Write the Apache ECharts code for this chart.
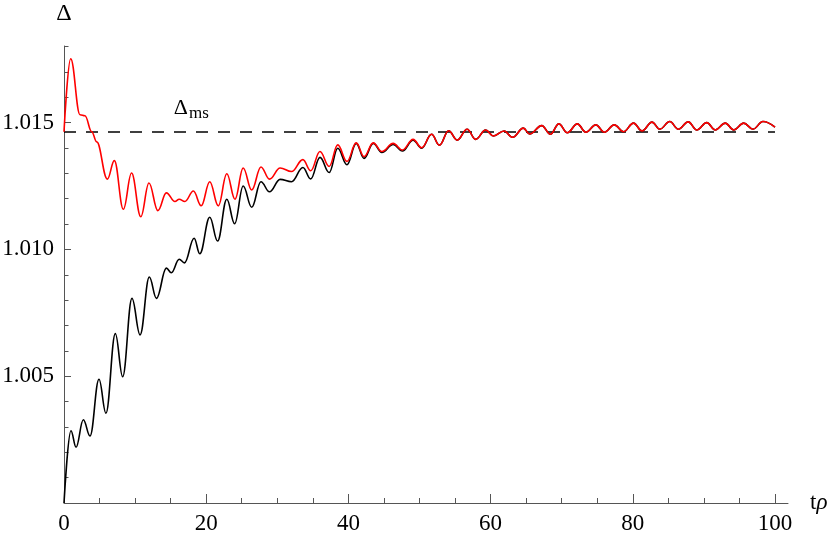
<!DOCTYPE html>
<html>
<head>
<meta charset="utf-8">
<script src="https://cdn.jsdelivr.net/npm/echarts@6/dist/echarts.min.js"></script>
<style>
  html, body { margin: 0; padding: 0; background: #fff; }
  #chart { width: 830px; height: 540px; }
</style>
</head>
<body>
<div id="chart"></div>
<script>
// black curve (t, Δ)
const tBlack = [0, 0.98, 1.69, 2.72, 3.66, 4.92, 5.9, 7.22, 8.25, 9.56, 10.7, 12.0, 13.0, 14.4, 15.1, 16.2, 16.95,
  18.3, 19.1, 20.5, 21.6, 22.9, 24.0, 25.2, 26.4, 27.7, 28.9, 30.4, 32.0, 33.6, 34.7, 36.0, 37.3, 38.5, 39.8,
  41.1, 42.2, 43.5, 44.7, 46.3, 47.6, 49.1, 50.3, 51.7, 52.8, 54.1, 55.3, 56.7, 57.9, 59.3, 60.4, 61.9, 63.1,
  64.6, 65.5, 67.2, 68.4, 69.6, 70.8, 72.2, 73.4, 74.8, 76.0, 77.4, 78.7, 80.1, 81.3, 82.7, 83.8, 85.2, 86.4,
  87.8, 89.0, 90.4, 91.6, 93.0, 94.2, 95.6, 96.9, 98.3, 100]
const dBlack = [1.0, 1.00285, 1.0022, 1.00328, 1.00264, 1.00488, 1.00354, 1.00668, 1.00498, 1.00807, 1.00663,
  1.00891, 1.00807, 1.00926, 1.00908, 1.00961, 1.00947, 1.01044, 1.00983, 1.01127, 1.01033, 1.01198, 1.01101,
  1.0125, 1.01166, 1.01267, 1.01227, 1.01276, 1.01267, 1.01323, 1.01278, 1.01363, 1.01303, 1.01399, 1.01334,
  1.01418, 1.01359, 1.01418, 1.01382, 1.01414, 1.01388, 1.01431, 1.01399, 1.01454, 1.01411, 1.01468, 1.01431,
  1.01474, 1.01434, 1.01471, 1.01447, 1.01467, 1.01442, 1.01478, 1.01455, 1.01488, 1.01454, 1.01495, 1.0146,
  1.01495, 1.01462, 1.01491, 1.01462, 1.01491, 1.01464, 1.01498, 1.01467, 1.01502, 1.01474, 1.01504, 1.01474,
  1.01503, 1.01471, 1.015, 1.01471, 1.01498, 1.01471, 1.01498, 1.01474, 1.01504, 1.01482]

// red curve (t, Δ)
const tRed = [0, 0.94, 2.25, 2.95, 3.9, 4.6, 6.1, 7.08, 8.35, 9.5, 10.8, 11.95, 13.2, 14.4, 15.6, 16.2, 17.0,
  18.2, 19.3, 20.5, 21.7, 22.9, 24.05, 25.2, 26.4, 27.7, 28.9, 30.4, 32.0, 33.6, 34.7, 36.0, 37.3, 38.5, 39.8,
  41.1, 42.2, 43.5, 44.7, 46.3, 47.6, 49.1, 50.3, 51.7, 52.8, 54.1, 55.3, 56.7, 57.9, 59.3, 60.4, 61.9, 63.1,
  64.6, 65.5, 67.2, 68.4, 69.6, 70.8, 72.2, 73.4, 74.8, 76.0, 77.4, 78.7, 80.1, 81.3, 82.7, 83.8, 85.2, 86.4,
  87.8, 89.0, 90.4, 91.6, 93.0, 94.2, 95.6, 96.9, 98.3, 100]
const dRed = [1.01464, 1.01752, 1.01531, 1.01527, 1.01464, 1.01424, 1.01277, 1.0135, 1.01158, 1.01301, 1.01129,
  1.01262, 1.01153, 1.01223, 1.01189, 1.01198, 1.01189, 1.0123, 1.01172, 1.01267, 1.01172, 1.01298, 1.01198,
  1.01321, 1.01234, 1.01325, 1.01277, 1.01321, 1.01307, 1.01354, 1.0131, 1.01386, 1.01327, 1.01412, 1.01347,
  1.0142, 1.01366, 1.0142, 1.01386, 1.01418, 1.01392, 1.01434, 1.01401, 1.01454, 1.01411, 1.01468, 1.01431,
  1.01474, 1.01434, 1.01471, 1.01447, 1.01467, 1.01442, 1.01478, 1.01455, 1.01488, 1.01454, 1.01495, 1.0146,
  1.01495, 1.01462, 1.01491, 1.01462, 1.01491, 1.01464, 1.01498, 1.01467, 1.01502, 1.01474, 1.01504, 1.01474,
  1.01503, 1.01471, 1.015, 1.01471, 1.01498, 1.01471, 1.01498, 1.01474, 1.01504, 1.01482]

// Δ_ms level (dashed)
const msT = [0, 100]
const msD = [1.01463, 1.01463]
const msLabelAt = [17.9, 1.0155]

// ticks
const xMajor = [0, 20, 40, 60, 80, 100]
const xMinor = [5, 10, 15, 25, 30, 35, 45, 50, 55, 65, 70, 75, 85, 90, 95]
const yMajor = [1.005, 1.01, 1.015]
const yMinor = [1.001, 1.002, 1.003, 1.004, 1.006, 1.007, 1.008, 1.009, 1.011, 1.012, 1.013, 1.014, 1.016, 1.017, 1.018]

const zip = (a, b) => a.map((v, i) => [v, b[i]])

const font = 'Liberation Serif'
const axisColor = '#555'

const chart = echarts.init(document.getElementById('chart'))

const option = {
  animation: false,
  backgroundColor: '#fff',
  grid: {
    left: 64,
    right: 42,
    top: 46,
    bottom: 37,
    containLabel: false,
    outerBoundsMode: 'none'
  },
  xAxis: [
    {
      type: 'value',
      min: 0,
      max: 101.83,
      position: 'bottom',
      name: '{t|t}{r|ρ}',
      nameLocation: 'end',
      nameGap: 22,
      nameTextStyle: {
        rich: {
          t: { fontFamily: font, fontSize: 23, color: '#000' },
          r: { fontFamily: font, fontSize: 23, fontStyle: 'italic', color: '#000' }
        }
      },
      axisLine: { show: true, lineStyle: { color: axisColor, width: 1 } },
      axisTick: { show: true, inside: true, length: 9, customValues: xMajor, lineStyle: { color: axisColor } },
      axisLabel: {
        customValues: xMajor,
        fontFamily: font,
        fontSize: 23,
        color: '#000',
        margin: 9
      },
      splitLine: { show: false }
    },
    {
      type: 'value',
      min: 0,
      max: 101.83,
      position: 'bottom',
      offset: 0,
      axisLine: { show: false },
      axisTick: { show: true, inside: true, length: 5, customValues: xMinor, lineStyle: { color: axisColor } },
      axisLabel: { show: false },
      splitLine: { show: false }
    }
  ],
  yAxis: [
    {
      type: 'value',
      min: 1.0,
      max: 1.01802,
      position: 'left',
      name: 'Δ',
      nameLocation: 'end',
      nameGap: 20,
      nameTextStyle: { fontFamily: font, fontSize: 24, color: '#000', align: 'center' },
      axisLine: { show: true, lineStyle: { color: axisColor, width: 1 } },
      axisTick: { show: true, inside: true, length: 7, customValues: yMajor, lineStyle: { color: axisColor } },
      axisLabel: {
        customValues: yMajor,
        formatter: (v) => v.toFixed(3),
        fontFamily: font,
        fontSize: 23,
        color: '#000',
        margin: 10
      },
      splitLine: { show: false }
    },
    {
      type: 'value',
      min: 1.0,
      max: 1.01802,
      position: 'left',
      offset: 0,
      axisLine: { show: false },
      axisTick: { show: true, inside: true, length: 4.5, customValues: yMinor, lineStyle: { color: axisColor } },
      axisLabel: { show: false },
      splitLine: { show: false }
    }
  ],
  series: [
    {
      name: 'ms',
      type: 'line',
      data: zip(msT, msD),
      symbol: 'none',
      lineStyle: { color: '#000', width: 1.4, type: [12, 10] },
      silent: true,
      markPoint: {
        symbol: 'circle',
        symbolSize: 0,
        data: [{ coord: msLabelAt }],
        label: {
          show: true,
          position: 'inside',
          formatter: '{a|Δ}{b|ms}',
          rich: {
            a: { fontFamily: font, fontSize: 22, color: '#000', verticalAlign: 'top' },
            b: { fontFamily: font, fontSize: 17, color: '#000', verticalAlign: 'bottom', padding: [8, 0, 0, 1] }
          }
        }
      }
    },
    {
      name: 'black',
      type: 'line',
      data: zip(tBlack, dBlack),
      symbol: 'none',
      smooth: 0.4,
      smoothMonotone: 'x',
      lineStyle: { color: '#000', width: 1.6 }
    },
    {
      name: 'red',
      type: 'line',
      data: zip(tRed, dRed),
      symbol: 'none',
      smooth: 0.4,
      smoothMonotone: 'x',
      lineStyle: { color: '#ff0000', width: 1.6 }
    }
  ]
}

chart.setOption(option)
window.addEventListener('resize', () => chart.resize())
</script>
</body>
</html>
